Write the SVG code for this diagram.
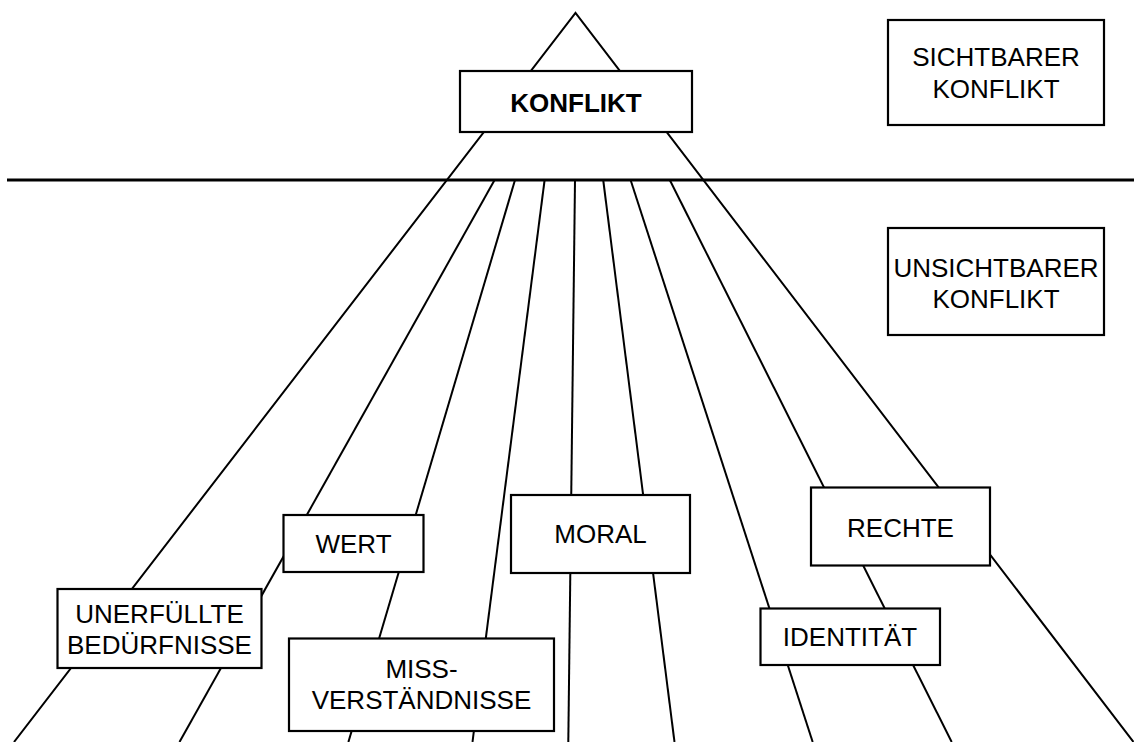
<svg xmlns="http://www.w3.org/2000/svg" width="1134" height="742" viewBox="0 0 1134 742">
<style>
.ln{stroke:#000;stroke-width:2;fill:none;stroke-linecap:butt}
.hz{stroke:#000;stroke-width:3;fill:none}
.bx{fill:#fff;stroke:#000;stroke-width:2.2}
.t{font-family:"Liberation Sans",Arial,sans-serif;font-size:26px;fill:#000;text-anchor:middle}
.b{font-weight:bold}
</style>
<rect width="1134" height="742" fill="#fff"/>
<g id="connectors">
<polyline class="ln" points="14,742 575.5,13 1133.5,742" stroke-linejoin="miter"/>
<line class="ln" x1="494.6" y1="180" x2="179.5" y2="742"/>
<line class="ln" x1="515" y1="180" x2="348.4" y2="742"/>
<line class="ln" x1="544.6" y1="180" x2="472.5" y2="742"/>
<line class="ln" x1="575" y1="180" x2="568.3" y2="742"/>
<line class="ln" x1="603.2" y1="180" x2="674.5" y2="742"/>
<line class="ln" x1="630.6" y1="180" x2="812.7" y2="742"/>
<line class="ln" x1="669.8" y1="180" x2="951.7" y2="742"/>
<line class="hz" x1="7" y1="180" x2="1134" y2="180"/>
</g>
<g id="konflikt">
<rect class="bx" x="460" y="71" width="232" height="61"/>
<text class="t b" x="576" y="111.5">KONFLIKT</text>
</g>
<g id="sichtbarer">
<rect class="bx" x="888" y="20" width="216" height="105"/>
<text class="t" x="996" y="65.5">SICHTBARER</text>
<text class="t" x="996" y="97.5">KONFLIKT</text>
</g>
<g id="unsichtbarer">
<rect class="bx" x="888" y="228" width="216" height="107"/>
<text class="t" x="996" y="276.5">UNSICHTBARER</text>
<text class="t" x="996" y="308">KONFLIKT</text>
</g>
<g id="wert">
<rect class="bx" x="283.5" y="515" width="140" height="57"/>
<text class="t" x="353.5" y="553">WERT</text>
</g>
<g id="moral">
<rect class="bx" x="511" y="495" width="179" height="78"/>
<text class="t" x="600.5" y="543">MORAL</text>
</g>
<g id="missverstaendnisse">
<rect class="bx" x="289" y="638.5" width="265" height="92.5"/>
<text class="t" x="421.5" y="678">MISS-</text>
<text class="t" x="421.5" y="709">VERSTÄNDNISSE</text>
</g>
<g id="unerfuellte">
<rect class="bx" x="57.5" y="589" width="204" height="79"/>
<text class="t" x="159.5" y="623">UNERFÜLLTE</text>
<text class="t" x="159.5" y="654">BEDÜRFNISSE</text>
</g>
<g id="rechte">
<rect class="bx" x="811" y="487.5" width="179" height="78"/>
<text class="t" x="900.5" y="536.5">RECHTE</text>
</g>
<g id="identitaet">
<rect class="bx" x="760.5" y="608.5" width="179.5" height="56.5"/>
<text class="t" x="850" y="646">IDENTITÄT</text>
</g>
</svg>
